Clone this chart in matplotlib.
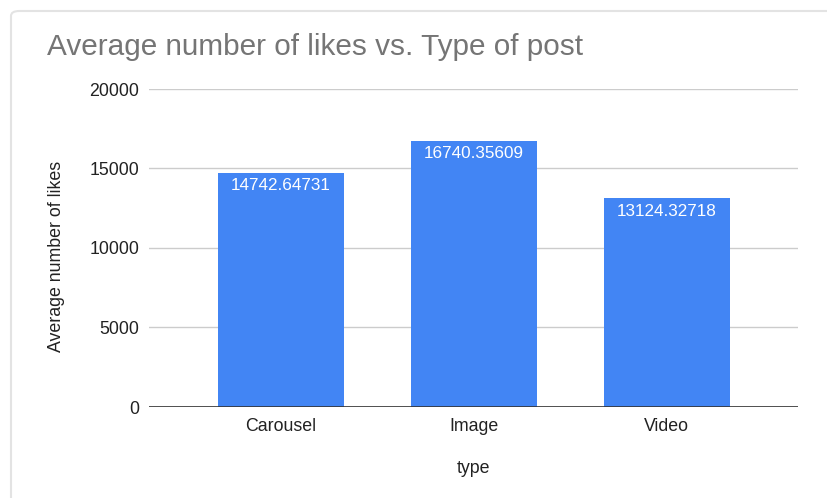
import matplotlib.pyplot as plt
from matplotlib.patches import FancyBboxPatch

# Data
categories = ['Carousel', 'Image', 'Video']
avg_likes = [14742.64731, 16740.35609, 13124.32718]
y_ticks = [0, 5000, 10000, 15000, 20000]

plt.rcParams['font.family'] = ['Liberation Sans', 'DejaVu Sans']

fig = plt.figure(figsize=(8.27, 4.98), dpi=100)

# light card border around the chart
card = FancyBboxPatch((11 / 827, -0.05), 1.2, 1 - 11 / 498 + 0.05,
                      boxstyle='round,pad=0,rounding_size=0.01',
                      transform=fig.transFigure, facecolor='white',
                      edgecolor='#e3e3e3', linewidth=1.5, zorder=-5)
fig.patches.append(card)

ax = fig.add_axes([149 / 827, 1 - 407 / 498, 649 / 827, 318 / 498])
ax.set_facecolor('none')
ax.set_zorder(2)

x = range(len(categories))
bars = ax.bar(x, avg_likes, width=0.65, color='#4285F4', zorder=2)

for rect, val in zip(bars, avg_likes):
    ax.annotate(f'{val:.5f}', (rect.get_x() + rect.get_width() / 2, rect.get_height()),
                xytext=(0, -4), textcoords='offset points', ha='center', va='top',
                color='white', fontsize=12.3, zorder=3)

ax.set_xlim(-0.684, 2.68)
ax.set_ylim(0, 20000)
ax.set_yticks(y_ticks)
ax.set_yticklabels([str(t) for t in y_ticks])
ax.set_xticks(list(x))
ax.set_xticklabels(categories)
ax.tick_params(length=0, labelsize=12.8, colors='#222222')
ax.tick_params(axis='y', pad=7)
ax.tick_params(axis='x', pad=8)

ax.grid(axis='y', color='#cccccc', linewidth=1, zorder=1)
ax.axhline(0, color='#333333', linewidth=1.2, zorder=3)
for s in ax.spines.values():
    s.set_visible(False)

ax.set_xlabel('type', fontsize=12.8, color='#222222', labelpad=18)
ax.set_ylabel('Average number of likes', fontsize=12.8, color='#222222')
ax.yaxis.set_label_coords(-0.13, 0.475)

fig.text(47 / 827, 1 - 47 / 498, 'Average number of likes vs. Type of post',
         fontsize=21.4, color='#757575', va='center', ha='left')

fig.savefig('out.png', dpi=100)
